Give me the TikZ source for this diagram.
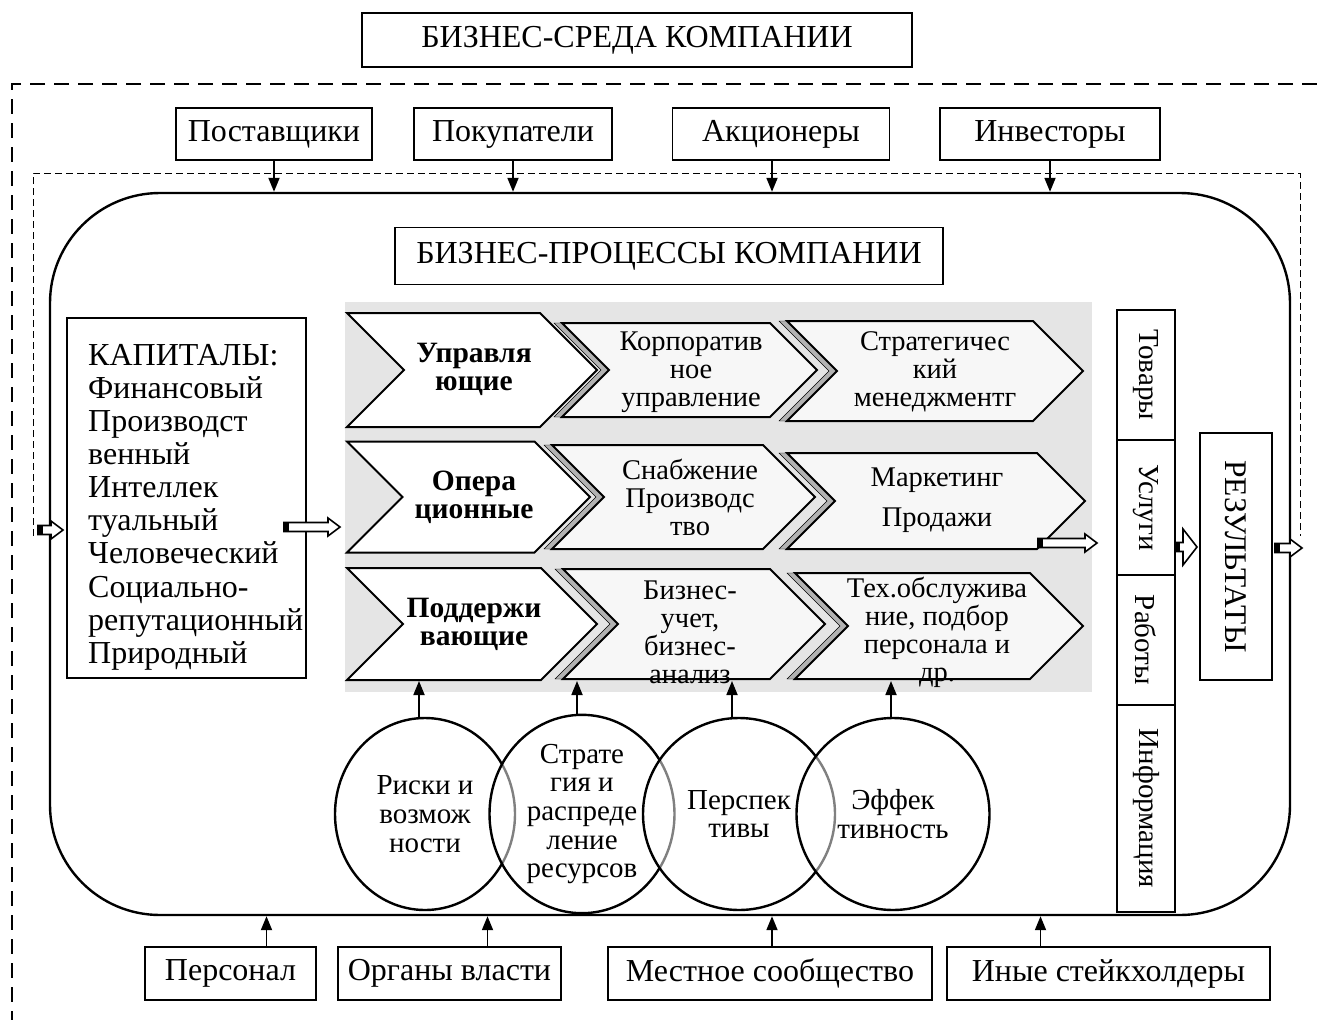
\documentclass[tikz,border=0pt]{standalone}
\usepackage{fontspec}
\setmainfont{Liberation Serif}
\usetikzlibrary{calc, arrows.meta, shapes.geometric}

\newcommand{\bigtxt}{\fontsize{32pt}{33.1pt}\selectfont}
\newcommand{\chevtxt}{\fontsize{28.5pt}{28pt}\selectfont}
\newcommand{\chevbold}{\fontsize{29.5pt}{28pt}\selectfont\bfseries}
\newcommand{\ovaltxt}{\fontsize{29pt}{28.7pt}\selectfont}

% chevron: [style]{left}{tip}{y centre}{height}
\newcommand{\chevron}[5][]{%
  \draw[#1] (#2,{#4-#5/2}) -- ({#3-#5/2},{#4-#5/2}) -- (#3,#4)
    -- ({#3-#5/2},{#4+#5/2}) -- (#2,{#4+#5/2}) -- ({#2+#5/2},#4) -- cycle;}

% hollow block arrow: {from}{to}{head half width}{head length}
\newcommand{\fatarrow}[4]{%
  \draw[fatline] let \p1=(#1), \p2=(#2) in
    (\x1,\y1+4.5pt) -- (\x2-#4pt,\y1+4.5pt) -- (\x2-#4pt,\y1+#3pt) -- (\x2,\y1)
    -- (\x2-#4pt,\y1-#3pt) -- (\x2-#4pt,\y1-4.5pt) -- (\x1,\y1-4.5pt) -- cycle;
  \fill let \p1=(#1) in (\x1,\y1-4.5pt) rectangle (\x1+5pt,\y1+4.5pt);}

\begin{document}
\begin{tikzpicture}[
        x=1pt, y=-1pt,
        box/.style={draw, line width=1.2pt, minimum height=52pt, inner sep=2pt, font=\bigtxt},
        outer/.style={line width=2.4pt, dash pattern=on 15pt off 9pt},
        thinframe/.style={line width=0.9pt, dash pattern=on 7pt off 4pt},
        arr/.style={line width=1.8pt, -{Triangle[length=14pt, width=11pt]}},
        fatline/.style={draw, fill=white, line width=1.6pt, line join=miter},
        mainchev/.style={draw, fill=white, line width=2pt, line join=miter},
        subchev/.style={draw, fill=black!3, line width=2pt, line join=miter},
        chevshade/.style={fill=black!30, xshift=-8pt},
        chevlabel/.style={align=center, inner sep=0pt, font=\chevtxt},
        oval/.style={ellipse, draw, line width=2.4pt, fill=white, fill opacity=0.5,
                     text opacity=1, inner sep=0pt, align=center, font=\ovaltxt,
                     minimum height=192pt},
        outbox/.style={draw, line width=1.4pt, rotate=-90, minimum height=58pt,
                       inner sep=0pt, font=\ovaltxt}
]
\useasboundingbox (0,0) rectangle (1317,1020);

%--- business environment -----------------------------------
\draw[outer] (1317,84) -- (12,84) -- (12,1020);
\node[box, minimum width=550pt, minimum height=54pt] (sreda) at (637,40) {БИЗНЕС-СРЕДА КОМПАНИИ};

\node[box, minimum width=196pt] (supl)   at (274,134)  {Поставщики};
\node[box, minimum width=198pt] (buyer)  at (513,134)  {Покупатели};
\node[box, minimum width=217pt] (share)  at (781,134)  {Акционеры};
\node[box, minimum width=220pt] (invest) at (1050,134) {Инвесторы};

\draw[thinframe] (33,536) -- (33,173) -- (1300,173) -- (1300,536);

%--- business processes frame --------------------------------
\node[draw, line width=2.4pt, rounded corners=110pt,
      minimum width=1240pt, minimum height=722pt] (bp) at (670,554) {};

\draw[arr] (supl.south)   -- (supl.south |- bp.north);
\draw[arr] (buyer.south)  -- (buyer.south |- bp.north);
\draw[arr] ([xshift=-9pt]share.south) -- ([xshift=-9pt]share.south |- bp.north);
\draw[arr] (invest.south) -- (invest.south |- bp.north);

\node[box, minimum width=548pt, minimum height=57pt] (proc) at (669,256) {БИЗНЕС-ПРОЦЕССЫ КОМПАНИИ};

%--- capitals ------------------------------------------------
\node[box, minimum width=239pt, minimum height=360pt] (kap) at (186.5,498) {};
\node[anchor=north west, align=left, inner sep=0pt, font=\bigtxt] (kaptxt) at (88,344)
     {КАПИТАЛЫ:\\Финансовый\\Производст\\венный\\Интеллек\\туальный\\Человеческий\\Социально-\\репутационный\\Природный};

%--- process chevrons ----------------------------------------
\node[fill=black!10, minimum width=747pt, minimum height=390pt, inner sep=0pt] (panel) at (718.5,497) {};

\chevron[mainchev]{347}{597}{370}{114}
\chevron[chevshade]{562}{817}{370}{94}
\chevron[subchev]{562}{817}{370}{94}
\chevron[chevshade]{787}{1083}{371}{100}
\chevron[subchev]{787}{1083}{371}{100}

\chevron[mainchev]{347}{590}{497}{111}
\chevron[chevshade]{552}{815}{497}{104}
\chevron[subchev]{552}{815}{497}{104}
\chevron[chevshade]{787}{1085}{501}{96}
\chevron[subchev]{787}{1085}{501}{96}

\chevron[mainchev]{347}{597}{624}{112}
\chevron[chevshade]{563}{825}{624}{110}
\chevron[subchev]{563}{825}{624}{110}
\chevron[chevshade]{795}{1083}{626}{106}
\chevron[subchev]{795}{1083}{626}{106}

\node[chevlabel, font=\chevbold] (ctrl)  at (474,369) {Управля\\ющие};
\node[chevlabel] (corp)  at (691,372) {Корпоратив\\ное\\управление};
\node[chevlabel] (strat) at (935,372) {Стратегичес\\кий\\менеджментг};

\node[chevlabel, font=\chevbold] (oper)  at (474,497) {Опера\\ционные};
\node[chevlabel] (supply) at (690,497) {Снабжение\\Производс\\тво};
\node[chevlabel] (market) at (937,500) {Маркетинг\\[12pt]Продажи};

\node[chevlabel, font=\chevbold] (suppt) at (474,624) {Поддержи\\вающие};
\node[chevlabel] (acct) at (690,632) {Бизнес-\\учет,\\бизнес-\\анализ};
\node[chevlabel] (serv) at (937,632) {Тех.обслужива\\ние, подбор\\персонала и\\др.};

%--- block arrows --------------------------------------------
\coordinate (inL)    at (38,530);
\coordinate (inLtip) at (63,530);
\coordinate (kapout) at (284,527);
\coordinate (panin)  at (340,527);
\coordinate (mktout) at (1038,543);
\coordinate (colin)  at (1097,543);
\coordinate (colout) at (1175,547);
\coordinate (rezin)  at (1197,547);
\coordinate (rezout) at (1275,548);
\coordinate (exitR)  at (1302,548);

\fatarrow{inL}{inLtip}{9}{12}
\fatarrow{kapout}{panin}{9}{12}
\fatarrow{mktout}{colin}{9}{12}
\fatarrow{colout}{rezin}{18}{14}
\fatarrow{rezout}{exitR}{9}{12}

%--- strategic elements --------------------------------------
\node[oval, minimum width=180pt] (risk)  at (425,814) {Риски и\\возмож\\ности};
\node[oval, minimum width=185pt] (strg)  at (582,814) {Страте\\гия и\\распреде\\ление\\ресурсов};
\node[oval, minimum width=192pt] (persp) at (739,814) {Перспек\\тивы};
\node[oval, minimum width=193pt] (eff)   at (893,814) {Эффек\\тивность};

\coordinate (chevbot) at (0,681);
\draw[arr] ([xshift=-6pt]risk.north)  -- ([xshift=-6pt]risk.north |- chevbot);
\draw[arr] ([xshift=-5pt]strg.north)  -- ([xshift=-5pt]strg.north |- chevbot);
\draw[arr] ([xshift=-7pt]persp.north) -- ([xshift=-7pt]persp.north |- chevbot);
\draw[arr] ([xshift=-2pt]eff.north)   -- ([xshift=-2pt]eff.north |- chevbot);

%--- outputs -------------------------------------------------
\node[outbox, minimum width=130pt] (tov)  at (1146,375)   {Товары};
\node[outbox, minimum width=135pt] (usl)  at (1146,507.5) {Услуги};
\node[outbox, minimum width=130pt] (rab)  at (1146,640)   {Работы};
\node[outbox, minimum width=207pt] (info) at (1146,808.5) {Информация};

\node[draw, line width=1.2pt, rotate=-90, minimum width=247pt, minimum height=72pt,
      font=\fontsize{31.5pt}{32pt}\selectfont] (rez) at (1236,556.5) {РЕЗУЛЬТАТЫ};

%--- stakeholders bottom -------------------------------------
\node[box, minimum width=171pt, minimum height=53pt] (pers)  at (230.5,973.5)  {Персонал};
\node[box, minimum width=223pt, minimum height=53pt] (gov)   at (449.5,973.5)  {Органы власти};
\node[box, minimum width=324pt, minimum height=53pt] (comm)  at (770,973.5)    {Местное сообщество};
\node[box, minimum width=323pt, minimum height=53pt] (other) at (1108.5,973.5) {Иные стейкхолдеры};

\draw[arr] ([xshift=36pt]pers.north)   -- ([xshift=36pt]pers.north |- bp.south);
\draw[arr] ([xshift=38pt]gov.north)    -- ([xshift=38pt]gov.north |- bp.south);
\draw[arr] ([xshift=2pt]comm.north)    -- ([xshift=2pt]comm.north |- bp.south);
\draw[arr] ([xshift=-68pt]other.north) -- ([xshift=-68pt]other.north |- bp.south);

\end{tikzpicture}
\end{document}
